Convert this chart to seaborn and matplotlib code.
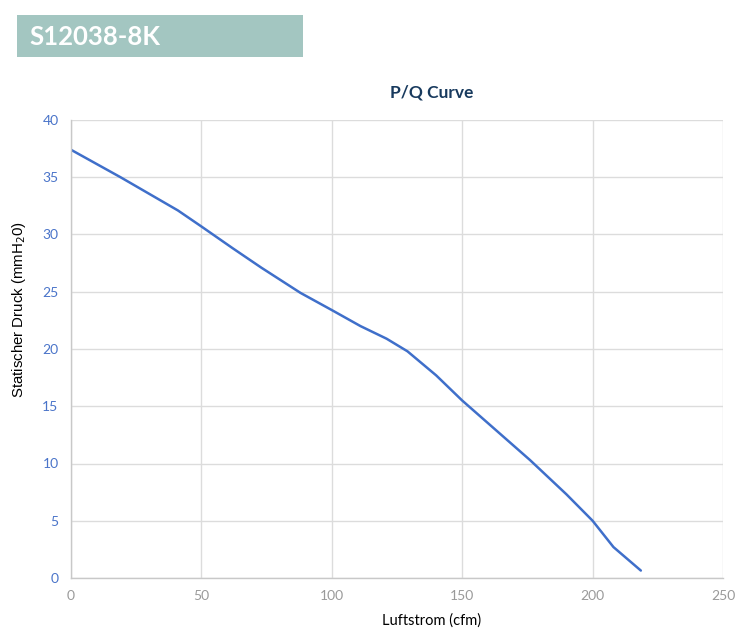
import numpy as np
import pandas as pd
import matplotlib
matplotlib.use("Agg")
import matplotlib.pyplot as plt
import seaborn as sns
from matplotlib.patches import Rectangle

# P/Q curve values
airflow_cfm = [0, 19, 41, 50, 62, 73, 88, 100, 111, 121, 129, 140, 150, 160, 176, 190, 200, 208, 218.5]
pressure_mmh2o = [37.4, 35.0, 32.1, 30.7, 28.8, 27.1, 24.9, 23.4, 22.0, 20.9, 19.8, 17.7, 15.5, 13.5, 10.3, 7.3, 5.0, 2.7, 0.65]

x_ticks = [0, 50, 100, 150, 200, 250]
y_ticks = [0, 5, 10, 15, 20, 25, 30, 35, 40]

df = pd.DataFrame({"Luftstrom": airflow_cfm, "Druck": pressure_mmh2o})

sns.set_theme(style="whitegrid")
plt.rcParams['font.family'] = ['Lato', 'DejaVu Sans']

fig = plt.figure(figsize=(7.53, 6.36), dpi=100)
ax = fig.add_axes([71 / 753, 58 / 636, 652 / 753, 458 / 636])

sns.lineplot(data=df, x="Luftstrom", y="Druck", ax=ax, color="#3f6fca", linewidth=1.8)

ax.set_xlim(0, 250)
ax.set_ylim(0, 40)
ax.set_xticks(x_ticks)
ax.set_yticks(y_ticks)
ax.tick_params(axis='x', colors='#9a9a9a', labelsize=10, length=0, pad=9)
ax.tick_params(axis='y', colors='#4a74c9', labelsize=10, length=0, pad=9)
ax.grid(True, color='#dcdcdc', linewidth=1)
for side in ['top', 'right']:
    ax.spines[side].set_visible(False)
for side in ['left', 'bottom']:
    ax.spines[side].set_color('#c8c8c8')
    ax.spines[side].set_linewidth(1)

# labels and title sit right of the axes centre in the reference
ax.set_xlabel("Luftstrom (cfm)", fontsize=10.5, color='black')
ax.xaxis.set_label_coords((432 - 71) / 652, -35 / 458)
ax.set_ylabel(r"Statischer Druck (mmH$_2$0)", fontsize=10.8, color='black',
              family=['Liberation Sans'])
ax.yaxis.set_label_coords(-43 / 652, (578 - 310) / 458)
ax.set_title("P/Q Curve", fontsize=12.5, fontweight='bold', color='#183a5e', pad=16,
             x=(432 - 71) / 652)

# header banner
fig.patches.append(Rectangle((17 / 753, 1 - 57 / 636), 286 / 753, 42 / 636,
                             transform=fig.transFigure, facecolor='#a3c6c1', edgecolor='none'))
fig.text(29 / 753, 1 - 37 / 636, "S12038-8K", color='white', fontsize=18.5, fontweight='bold',
         va='center', ha='left')

fig.savefig("out.png", dpi=100, facecolor='white')
